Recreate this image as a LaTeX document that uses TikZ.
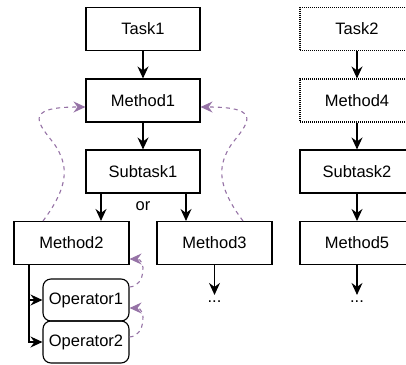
\documentclass[tikz,border=0pt]{standalone}
\usepackage{fontspec}
\setmainfont{Liberation Sans}
\usetikzlibrary{arrows.meta}
\definecolor{pur}{HTML}{9673A6}
\begin{document}
\begin{tikzpicture}[x=1pt,y=-1pt,
  box/.style={draw, line width=1.1pt, minimum width=114pt, minimum height=43pt, inner sep=0pt, font=\fontsize{16.5}{19}\selectfont},
  dotbox/.style={box, dash pattern=on 1pt off 1pt},
  opbox/.style={box, minimum width=86pt, minimum height=42pt, rounded corners=8pt},
  lbl/.style={inner sep=0pt, font=\fontsize{16.5}{19}\selectfont},
  tip/.style={-{Stealth[length=12pt,width=11pt,inset=4pt]}},
  conn/.style={tip, line width=1.1pt},
  back/.style={tip, line width=1.1pt, pur, dash pattern=on 4pt off 4pt}]
\useasboundingbox (0,0) rectangle (406,364);
\clip (0,0) rectangle (406,364);
% left hierarchy
\node[box] (t1) at (143,29) {Task1};
\node[box] (m1) at (143,100.5) {Method1};
\node[box] (s1) at (143,171.5) {Subtask1};
\node[box, minimum width=115pt] (m2) at (71.5,243) {Method2};
\node[box, minimum width=115pt] (m3) at (214.5,243) {Method3};
\node[opbox] (o1) at (86,300) {Operator1};
\node[opbox] (o2) at (86,342) {Operator2};
\node[lbl] (or) at (143,206) {or};
\node[lbl] (d3) at (214.5,302) {...};
% right hierarchy
\node[dotbox] (t2) at (357,29) {Task2};
\node[dotbox] (m4) at (357,100.5) {Method4};
\node[box] (s2) at (357,171.5) {Subtask2};
\node[box] (m5) at (357,243) {Method5};
\node[lbl] (d5) at (357,302) {...};
% connectors
\draw[conn] (t1) -- (m1);
\draw[conn] (m1) -- (s1);
\draw[conn] ([xshift=-42pt]s1.south) -- ([xshift=-42pt]s1.south |- m2.north);
\draw[conn] ([xshift=43pt]s1.south) -- ([xshift=43pt]s1.south |- m3.north);
\draw[conn] (m3.south) -- ([yshift=6pt]d3.north);
\draw[conn] (t2) -- (m4);
\draw[conn] (m4) -- (s2);
\draw[conn] (s2) -- (m5);
\draw[conn] (m5.south) -- ([yshift=6pt]d5.north);
\coordinate (br) at ([xshift=-42.5pt]m2.south);
\draw[conn] (br) |- (o2.west);
\draw[conn] (br |- o1.west) -- (o1.west);
% back edges
\draw[back] ([xshift=-28.5pt]m2.north) .. controls (70,185) and (68,165) .. (55,145)
  .. controls (40,125) and (20,107) .. ([yshift=-6.5pt]m1.west);
\draw[back] ([xshift=28.5pt]m3.north) .. controls (216,185) and (218,165) .. (231,145)
  .. controls (246,125) and (266,107) .. ([yshift=-6.5pt]m1.east);
\draw[back] ([yshift=13pt]o1.east) .. controls (146,286) and (146,259) .. ([yshift=-16pt]m2.east);
\draw[back] ([yshift=5pt]o2.east) .. controls (146,336) and (146,308) .. ([yshift=-8pt]o1.east);
\end{tikzpicture}
\end{document}
